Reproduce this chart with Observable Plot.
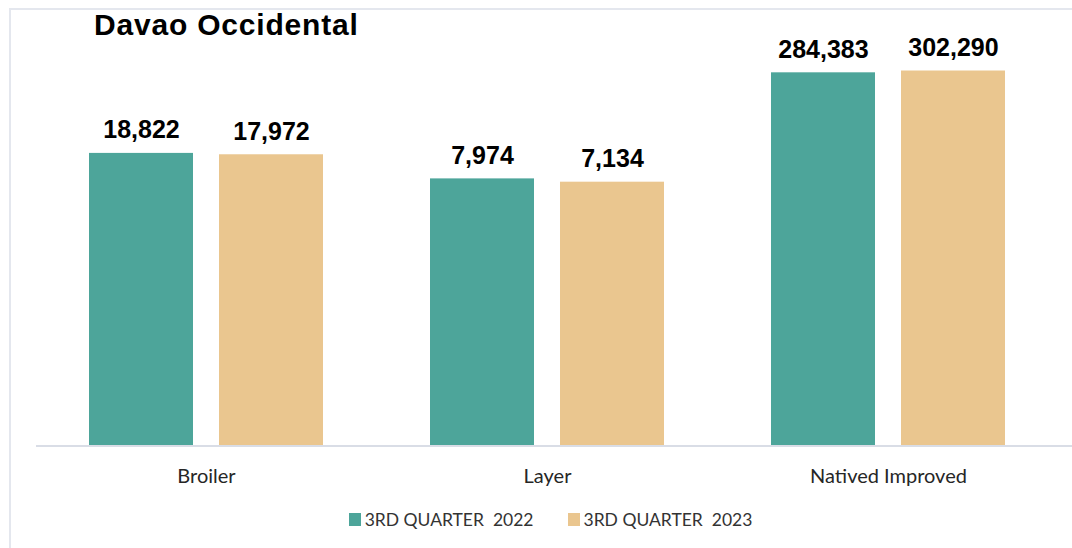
<!DOCTYPE html>
<html>
<head>
<meta charset="utf-8">
<script src="https://cdn.jsdelivr.net/npm/d3@7"></script>
<script src="https://cdn.jsdelivr.net/npm/@observablehq/plot@0.6"></script>
<style>
  html, body { margin: 0; padding: 0; background: #fff; }
  #wrap { position: relative; width: 1072px; height: 548px; overflow: hidden; background: #fff; }
  #frame { position: absolute; left: 9px; top: 8px; width: 1100px; height: 600px;
           border-left: 2px solid #e4e7ee; border-top: 2px solid #e4e7ee; }
  #chart { position: absolute; left: 0; top: 0; }
  #title { position: absolute; left: 94px; top: 10px; font-family: "Liberation Sans", Arial, sans-serif;
           font-weight: bold; font-size: 30px; line-height: 30px; letter-spacing: 0.8px; color: #000; white-space: nowrap; }
  #legend { position: absolute; left: 0; top: 509px; width: 1072px; display: flex; justify-content: center; gap: 34px;
            padding-left: 29px; box-sizing: border-box;
            font-family: Lato, "Open Sans", sans-serif; font-size: 17.5px; color: #333; }
  .item { display: flex; align-items: center; white-space: pre; }
  .sw { width: 12px; height: 13px; margin-right: 4px; }
</style>
</head>
<body>
<div id="wrap">
  <div id="frame"></div>
  <div id="chart"></div>
  <div id="title">Davao Occidental</div>
  <div id="legend"></div>
</div>
<script>
const categories = ["Broiler", "Layer", "Natived Improved"];
const series = ["3RD QUARTER 2022", "3RD QUARTER 2023"];
const values2022 = [18822, 7974, 284383];
const values2023 = [17972, 7134, 302290];
const colors = ["#4DA59A", "#EAC68F"];

const data = categories.flatMap((c, i) => [
  {category: c, series: series[0], value: values2022[i]},
  {category: c, series: series[1], value: values2023[i]}
]);

const fmt = d3.format(",");

const plot = Plot.plot({
  width: 1072,
  height: 548,
  marginLeft: 36,
  marginRight: 13,
  marginTop: 35,
  marginBottom: 103,
  fx: {domain: categories, paddingInner: 0.307, paddingOuter: 0.1535, axis: null, label: null},
  x: {domain: series, paddingInner: 0.198, paddingOuter: 0, axis: null, label: null},
  y: {type: "log", domain: [1, 1e6], axis: null},
  color: {domain: series, range: colors},
  marks: [
    Plot.barY(data, {fx: "category", x: "series", y1: 1, y2: "value", fill: "series"}),
    Plot.text(data, {
      fx: "category", x: "series", y: "value",
      text: d => fmt(d.value),
      dy: -15, lineAnchor: "bottom",
      fontSize: 25, fontWeight: "bold", fontFamily: "Liberation Sans, Arial, sans-serif", fill: "#000"
    }),
    Plot.text(categories, {
      fx: d => d, text: d => d,
      frameAnchor: "bottom", dy: 37, lineAnchor: "bottom",
      fontSize: 20, fontFamily: "Lato, Open Sans, sans-serif", fill: "#262626"
    })
  ]
});

// baseline (category axis line) drawn from the y scale
const y0 = plot.scale("y").apply(1);
d3.select(plot).append("line")
  .attr("x1", 36).attr("x2", 1072)
  .attr("y1", y0 + 1).attr("y2", y0 + 1)
  .attr("stroke", "#d9dde6").attr("stroke-width", 2);

document.getElementById("chart").appendChild(plot);

const legend = d3.select("#legend");
series.forEach((s, i) => {
  const it = legend.append("div").attr("class", "item");
  it.append("div").attr("class", "sw").style("background", colors[i]);
  it.append("span").text(s.replace("QUARTER ", "QUARTER  "));
});
</script>
</body>
</html>
